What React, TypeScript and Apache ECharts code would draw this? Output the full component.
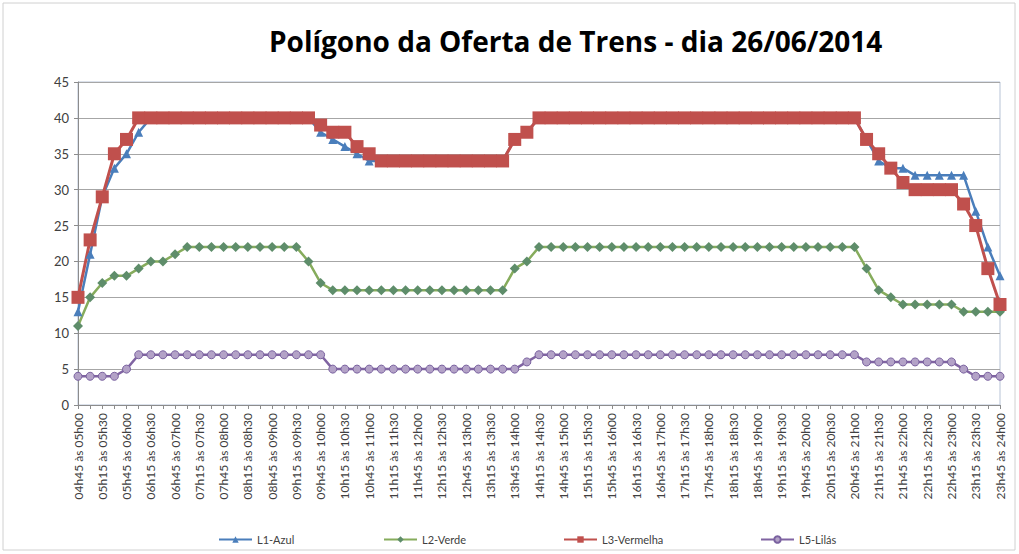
import React, { useEffect, useRef } from "react";
import * as echarts from "echarts";

const categories: string[] = [
  "04h45 às 05h00",
  "05h00 às 05h15", "05h15 às 05h30", "05h30 às 05h45", "05h45 às 06h00",
  "06h00 às 06h15", "06h15 às 06h30", "06h30 às 06h45", "06h45 às 07h00",
  "07h00 às 07h15", "07h15 às 07h30", "07h30 às 07h45", "07h45 às 08h00",
  "08h00 às 08h15", "08h15 às 08h30", "08h30 às 08h45", "08h45 às 09h00",
  "09h00 às 09h15", "09h15 às 09h30", "09h30 às 09h45", "09h45 às 10h00",
  "10h00 às 10h15", "10h15 às 10h30", "10h30 às 10h45", "10h45 às 11h00",
  "11h00 às 11h15", "11h15 às 11h30", "11h30 às 11h45", "11h45 às 12h00",
  "12h00 às 12h15", "12h15 às 12h30", "12h30 às 12h45", "12h45 às 13h00",
  "13h00 às 13h15", "13h15 às 13h30", "13h30 às 13h45", "13h45 às 14h00",
  "14h00 às 14h15", "14h15 às 14h30", "14h30 às 14h45", "14h45 às 15h00",
  "15h00 às 15h15", "15h15 às 15h30", "15h30 às 15h45", "15h45 às 16h00",
  "16h00 às 16h15", "16h15 às 16h30", "16h30 às 16h45", "16h45 às 17h00",
  "17h00 às 17h15", "17h15 às 17h30", "17h30 às 17h45", "17h45 às 18h00",
  "18h00 às 18h15", "18h15 às 18h30", "18h30 às 18h45", "18h45 às 19h00",
  "19h00 às 19h15", "19h15 às 19h30", "19h30 às 19h45", "19h45 às 20h00",
  "20h00 às 20h15", "20h15 às 20h30", "20h30 às 20h45", "20h45 às 21h00",
  "21h00 às 21h15", "21h15 às 21h30", "21h30 às 21h45", "21h45 às 22h00",
  "22h00 às 22h15", "22h15 às 22h30", "22h30 às 22h45", "22h45 às 23h00",
  "23h00 às 23h15", "23h15 às 23h30", "23h30 às 23h45", "23h45 às 24h00",
];

const l1Azul: number[] = [
  13, 21, 29, 33, 35, 38,
  40, 40, 40, 40, 40, 40, 40, 40, 40, 40, 40, 40, 40, 40,
  38, 37, 36, 35, 34,
  34, 34, 34, 34, 34, 34, 34, 34, 34, 34, 34,
  37, 38,
  40, 40, 40, 40, 40, 40, 40, 40, 40, 40, 40, 40, 40, 40, 40, 40, 40, 40, 40, 40, 40, 40, 40, 40, 40, 40, 40,
  37, 34, 33, 33,
  32, 32, 32, 32, 32,
  27, 22, 18,
];

const l2Verde: number[] = [
  11, 15, 17, 18, 18, 19, 20, 20, 21,
  22, 22, 22, 22, 22, 22, 22, 22, 22, 22,
  20, 17,
  16, 16, 16, 16, 16, 16, 16, 16, 16, 16, 16, 16, 16, 16, 16,
  19, 20,
  22, 22, 22, 22, 22, 22, 22, 22, 22, 22, 22, 22, 22, 22, 22, 22, 22, 22, 22, 22, 22, 22, 22, 22, 22, 22, 22,
  19, 16, 15,
  14, 14, 14, 14, 14,
  13, 13, 13, 13,
];

const l3Vermelha: number[] = [
  15, 23, 29, 35, 37,
  40, 40, 40, 40, 40, 40, 40, 40, 40, 40, 40, 40, 40, 40, 40,
  39, 38, 38, 36, 35,
  34, 34, 34, 34, 34, 34, 34, 34, 34, 34, 34,
  37, 38,
  40, 40, 40, 40, 40, 40, 40, 40, 40, 40, 40, 40, 40, 40, 40, 40, 40, 40, 40, 40, 40, 40, 40, 40, 40, 40, 40,
  37, 35, 33, 31,
  30, 30, 30, 30,
  28, 25, 19, 14,
];

const l5Lilas: number[] = [
  4, 4, 4, 4, 5,
  7, 7, 7, 7, 7, 7, 7, 7, 7, 7, 7, 7, 7, 7, 7, 7,
  5, 5, 5, 5, 5, 5, 5, 5, 5, 5, 5, 5, 5, 5, 5, 5,
  6,
  7, 7, 7, 7, 7, 7, 7, 7, 7, 7, 7, 7, 7, 7, 7, 7, 7, 7, 7, 7, 7, 7, 7, 7, 7, 7, 7,
  6, 6, 6, 6, 6, 6, 6, 6,
  5, 4, 4, 4,
];

const yTicks = { min: 0, max: 45, interval: 5 };
const titleText = "Polígono da Oferta de Trens - dia 26/06/2014";
const seriesNames = ["L1-Azul", "L2-Verde", "L3-Vermelha", "L5-Lilás"];

const FONT = "Lato, 'Open Sans', sans-serif";

export default function App() {
  const ref = useRef<HTMLDivElement>(null);
  useEffect(() => {
    if (!ref.current) return;
    const chart = echarts.init(ref.current, null, { renderer: "svg" });
    const legendLefts = [213, 378, 558, 755];
    chart.setOption({
      animation: false,
      backgroundColor: "#ffffff",
      textStyle: { fontFamily: FONT },
      title: {
        text: titleText,
        left: 264,
        top: 22,
        textStyle: { fontFamily: "'Open Sans', Lato, sans-serif", fontSize: 28, fontWeight: "bold", color: "#000000" },
      },
      graphic: [
        {
          type: "rect",
          shape: { x: 3, y: 3, width: 1012, height: 547 },
          style: { fill: "none", stroke: "#D0D0D0", lineWidth: 1 },
          silent: true,
        },
      ],
      legend: seriesNames.map((n, i) => ({
        data: [n],
        left: legendLefts[i],
        top: 529,
        itemWidth: 33,
        itemHeight: 8,
        itemGap: 4,
        textStyle: { fontFamily: FONT, fontSize: 11, color: "#404040" },
      })),
      grid: {
        left: 78,
        right: 19,
        top: 82,
        bottom: 149,
        show: true,
        borderColor: "#B7C3D6",
        borderWidth: 1,
      },
      xAxis: {
        type: "category",
        data: categories,
        boundaryGap: false,
        axisLine: { lineStyle: { color: "#8C8C8C", width: 1 } },
        axisTick: { show: true, interval: 0, length: 4, lineStyle: { color: "#8C8C8C" } },
        axisLabel: {
          interval: 1,
          rotate: 90,
          fontFamily: FONT,
          fontSize: 12,
          color: "#404040",
          margin: 8,
        },
      },
      yAxis: {
        type: "value",
        min: yTicks.min,
        max: yTicks.max,
        interval: yTicks.interval,
        axisLine: { show: true, lineStyle: { color: "#8C8C8C", width: 1 } },
        axisTick: { show: true, length: 4, lineStyle: { color: "#8C8C8C" } },
        axisLabel: { fontFamily: FONT, fontSize: 13, color: "#404040", margin: 9 },
        splitLine: { lineStyle: { color: "#A6A6A6", width: 1 } },
      },
      series: [
        {
          name: seriesNames[0],
          type: "line",
          data: l1Azul,
          showAllSymbol: true,
          symbol: "triangle",
          symbolSize: 9,
          lineStyle: { color: "#4A7EBB", width: 2.5 },
          itemStyle: { color: "#4A7EBB" },
        },
        {
          name: seriesNames[1],
          type: "line",
          data: l2Verde,
          showAllSymbol: true,
          symbol: "diamond",
          symbolSize: 10,
          lineStyle: { color: "#86AC5C", width: 2.5 },
          itemStyle: { color: "#5E8D6A" },
        },
        {
          name: seriesNames[2],
          type: "line",
          data: l3Vermelha,
          showAllSymbol: true,
          symbol: "rect",
          symbolSize: 13,
          lineStyle: { color: "#C0504D", width: 3 },
          itemStyle: { color: "#C0504D" },
        },
        {
          name: seriesNames[3],
          type: "line",
          data: l5Lilas,
          showAllSymbol: true,
          symbol: "circle",
          symbolSize: 8,
          lineStyle: { color: "#8064A2", width: 2.5 },
          itemStyle: { color: "#B3A2C7", borderColor: "#7A62A0", borderWidth: 1 },
        },
      ],
    });
    return () => chart.dispose();
  }, []);
  return (
    <div
      ref={ref}
      style={{ position: "fixed", left: 0, top: 0, width: 1019, height: 554, background: "#ffffff" }}
    />
  );
}
